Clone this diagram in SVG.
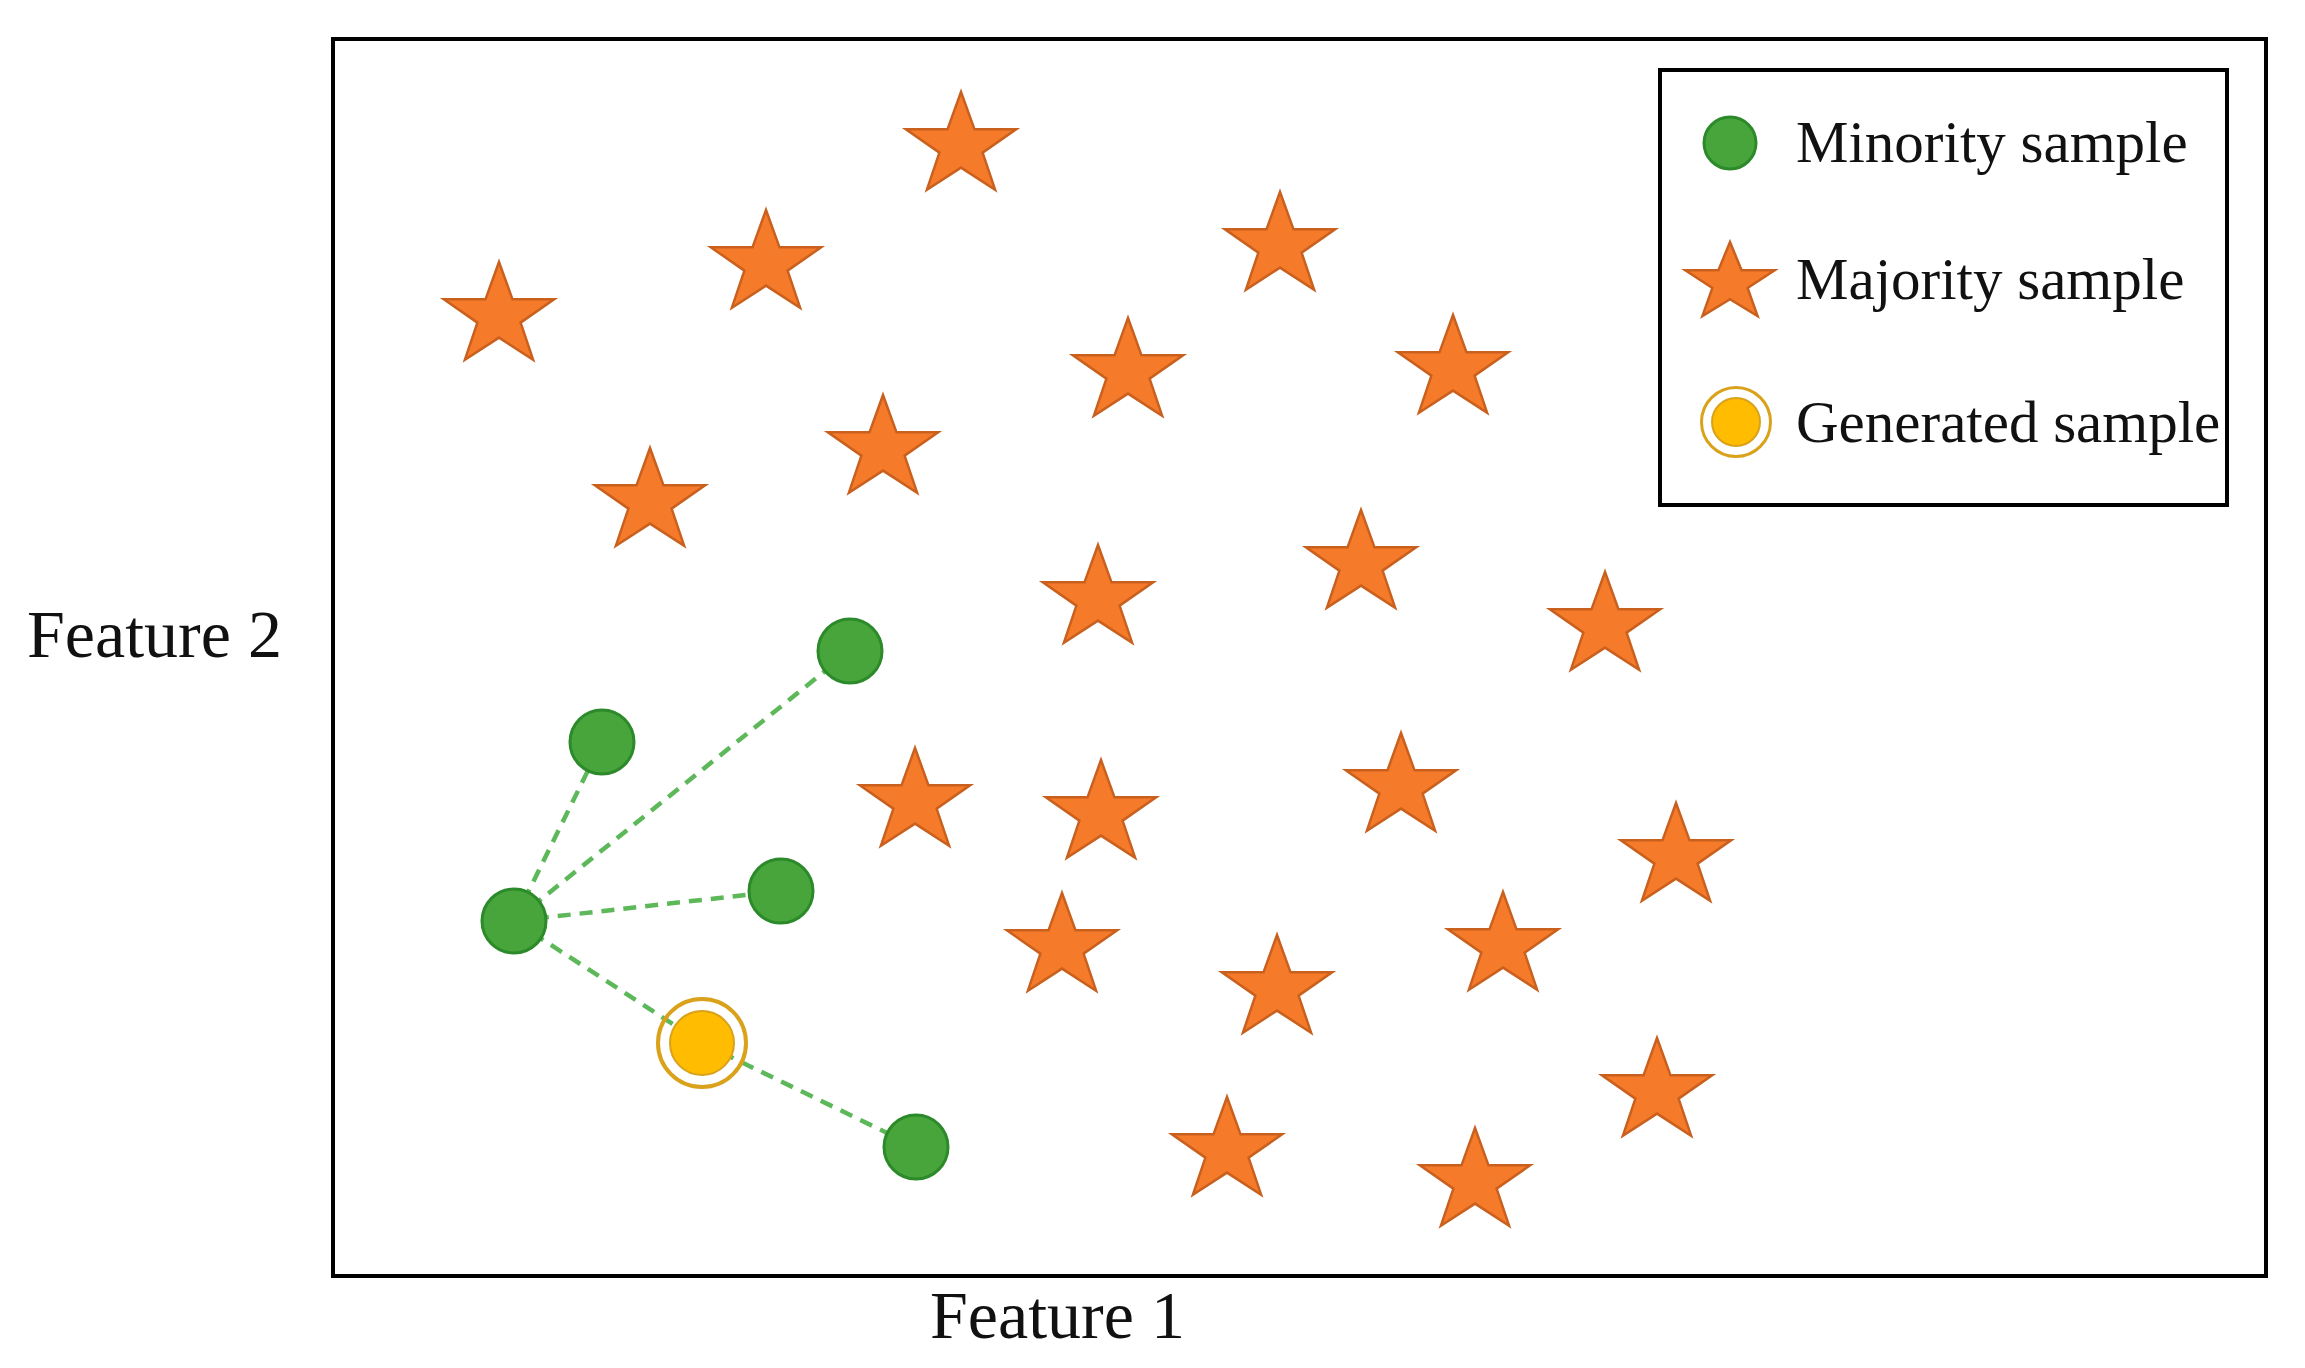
<svg xmlns="http://www.w3.org/2000/svg" xmlns:xlink="http://www.w3.org/1999/xlink" width="2305" height="1368" viewBox="0 0 2305 1368">
<style>
.frame{fill:none;stroke:#000;stroke-width:4}
.lbl{font-family:"Liberation Serif","Times New Roman",serif;fill:#111}
.axis{font-size:68px}
.leg{font-size:59px}
.star{fill:#F57B2B;stroke:#C9601E;stroke-width:2.5;stroke-linejoin:miter}
.min{fill:#47A53C;stroke:#2C8A2A;stroke-width:3}
.gen{fill:#FFBC00;stroke:#D9A21A;stroke-width:2}
.ring{fill:none;stroke:#D9A21A;stroke-width:4}
.link{stroke:#5DB85A;stroke-width:4.5;stroke-dasharray:13 9;fill:none}
</style>
<defs>
<path id="st" d="M0,-54 L13.5,-16.69 L55.16,-16.69 L21.6,6.6 L34.1,43.69 L0,21.6 L-34.1,43.69 L-21.6,6.6 L-55.16,-16.69 L-13.5,-16.69 Z"/>
<path id="stL" d="M0,-41 L11.6,-12.67 L44.7,-12.67 L17.6,5 L27.6,33.17 L0,16.3 L-27.6,33.17 L-17.6,5 L-44.7,-12.67 L-11.6,-12.67 Z"/>
</defs>
<rect width="2305" height="1368" fill="#fff"/>
<rect id="plot-frame" class="frame" x="333" y="39" width="1933" height="1237"/>
<text id="feature2" class="lbl axis" x="27" y="657">Feature 2</text>
<text id="feature1" class="lbl axis" x="930" y="1338">Feature 1</text>

<g id="connectors">
<line class="link" x1="514" y1="921" x2="602" y2="742"/>
<line class="link" x1="514" y1="921" x2="850" y2="651"/>
<line class="link" x1="514" y1="921" x2="781" y2="891"/>
<line class="link" x1="514" y1="921" x2="702" y2="1043"/>
<line class="link" x1="702" y1="1043" x2="916" y2="1147"/>
</g>

<g id="majority-samples">
<use class="star" xlink:href="#st" x="961" y="146"/>
<use class="star" xlink:href="#st" x="766" y="264"/>
<use class="star" xlink:href="#st" x="499" y="316"/>
<use class="star" xlink:href="#st" x="1280" y="246"/>
<use class="star" xlink:href="#st" x="1128" y="372"/>
<use class="star" xlink:href="#st" x="1453" y="369"/>
<use class="star" xlink:href="#st" x="883" y="449"/>
<use class="star" xlink:href="#st" x="650" y="502"/>
<use class="star" xlink:href="#st" x="1361" y="564"/>
<use class="star" xlink:href="#st" x="1098" y="599"/>
<use class="star" xlink:href="#st" x="1605" y="626"/>
<use class="star" xlink:href="#st" x="915" y="802"/>
<use class="star" xlink:href="#st" x="1101" y="814"/>
<use class="star" xlink:href="#st" x="1401" y="787"/>
<use class="star" xlink:href="#st" x="1676" y="857"/>
<use class="star" xlink:href="#st" x="1062" y="947"/>
<use class="star" xlink:href="#st" x="1503" y="946"/>
<use class="star" xlink:href="#st" x="1277" y="989"/>
<use class="star" xlink:href="#st" x="1657" y="1092"/>
<use class="star" xlink:href="#st" x="1227" y="1151"/>
<use class="star" xlink:href="#st" x="1475" y="1182"/>
</g>

<g id="minority-samples">
<circle id="m-center" class="min" cx="514" cy="921" r="32"/>
<circle id="m-upper" class="min" cx="602" cy="742" r="32"/>
<circle id="m-top" class="min" cx="850" cy="651" r="32"/>
<circle id="m-mid" class="min" cx="781" cy="891" r="32"/>
<circle id="m-bottom" class="min" cx="916" cy="1147" r="32"/>
</g>

<g id="generated-sample">
<circle class="ring" cx="702" cy="1043" r="44"/>
<circle class="gen" cx="702" cy="1043" r="32"/>
</g>

<g id="legend">
<rect class="frame" x="1660" y="70" width="567" height="435"/>
<g id="legend-minority">
<circle class="min" cx="1730" cy="143" r="26"/>
<text class="lbl leg" x="1796" y="162">Minority sample</text>
</g>
<g id="legend-majority">
<use class="star" xlink:href="#stL" x="1730" y="283"/>
<text class="lbl leg" x="1796" y="299">Majority sample</text>
</g>
<g id="legend-generated">
<circle class="ring" cx="1736" cy="422" r="34.5" style="stroke-width:3"/>
<circle class="gen" cx="1736" cy="422" r="24"/>
<text class="lbl leg" x="1796" y="442">Generated sample</text>
</g>
</g>
</svg>
